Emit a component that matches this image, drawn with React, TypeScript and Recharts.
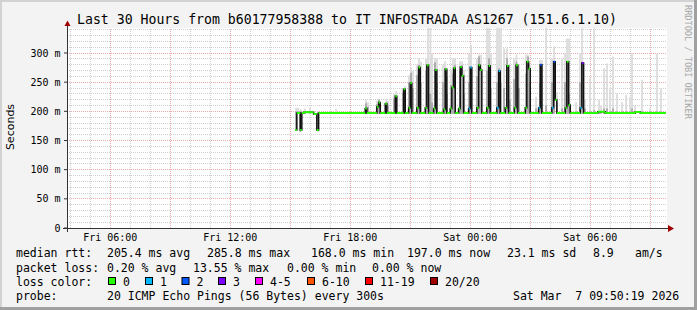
import React from 'react';
import { Area, CartesianGrid, ComposedChart, Line, ReferenceLine, XAxis, YAxis } from 'recharts';

// time axis in hours since Fri 00:00, last 30 hours up to Sat 09:50:19
const startHour = 3.8386;
const endHour = 33.8386;
const yTop = 342.86;

const xTickHours = [6, 12, 18, 24, 30];
const xTickLabels = ['Fri 06:00', 'Fri 12:00', 'Fri 18:00', 'Sat 00:00', 'Sat 06:00'];
const yTicks = [0, 50, 100, 150, 200, 250, 300];
const yTickLabels = ['0', '50 m', '100 m', '150 m', '200 m', '250 m', '300 m'];

const minorHours = [4, 5, 7, 8, 10, 11, 13, 14, 16, 17, 19, 20, 22, 23, 25, 26, 28, 29, 31, 32];
const majorHours = [6, 9, 12, 15, 18, 21, 24, 27, 30, 33];
const minorMs = [10, 20, 30, 40, 60, 70, 80, 90, 110, 120, 130, 140, 160, 170, 180, 190, 210, 220, 230, 240, 260, 270, 280, 290, 310, 320, 330, 340];
const majorMs = [50, 100, 150, 200, 250, 300];

const lossColors = ['#26ff00', '#00b8ff', '#0059ff', '#7e00ff', '#ff00ff', '#ff5500', '#ff0000', '#a10000'];
const lossLabels = ['0', '1', '2', '3', '4-5', '6-10', '11-19', '20/20'];

// median rtt steps: [hour, ms, loss class] - value holds until the next entry
const medianSteps: [number, number, number][] = [
  [15.25, 168, 0], [15.33, 197, 0], [15.5, 168, 0], [15.58, 197, 0], [15.67, 198.5, 0],
  [16.17, 195.5, 0], [16.33, 168, 0], [16.42, 197, 0],
  [18.75, 205, 0], [18.83, 197, 0],
  [19.33, 208, 0], [19.42, 215, 0], [19.5, 197, 0],
  [19.75, 213, 0], [19.83, 197, 0],
  [20.25, 226, 0], [20.33, 197, 0],
  [20.67, 238, 0], [20.75, 197, 0],
  [20.92, 206, 0], [21.0, 248, 0], [21.08, 197, 0],
  [21.33, 206, 0], [21.42, 275, 0], [21.5, 197, 0],
  [21.75, 206, 0], [21.83, 279, 0], [21.92, 197, 0],
  [22.17, 205, 0], [22.25, 271, 0], [22.33, 197, 0],
  [22.67, 203, 0], [22.75, 272, 0], [22.83, 197, 0],
  [23.0, 205, 0], [23.08, 241, 0], [23.17, 274, 0], [23.25, 197, 0],
  [23.42, 205, 0], [23.5, 276, 0], [23.58, 261, 0], [23.67, 197, 0],
  [23.92, 205, 1], [24.0, 275, 1], [24.08, 197, 0],
  [24.33, 206, 0], [24.42, 279, 0], [24.5, 271, 0], [24.58, 197, 0],
  [24.83, 206, 0], [24.92, 278, 0], [25.0, 197, 0],
  [25.33, 206, 1], [25.42, 269, 1], [25.5, 197, 0],
  [25.75, 206, 0], [25.83, 278, 0], [25.92, 197, 0],
  [26.21, 206, 0], [26.29, 279, 0], [26.38, 197, 0],
  [26.75, 206, 0], [26.83, 285, 0], [26.92, 273, 0], [27.0, 197, 0],
  [27.42, 206, 1], [27.5, 280, 2], [27.58, 197, 0],
  [28.08, 206, 1], [28.17, 285, 2], [28.25, 220, 0], [28.33, 197, 0],
  [28.75, 206, 0], [28.83, 285, 0], [28.92, 211, 0], [29.0, 197, 0],
  [29.5, 206, 1], [29.58, 283, 3], [29.67, 197, 0],
  [30.38, 199.5, 0], [30.75, 197, 0], [32.25, 199, 0], [32.5, 197, 0],
  [33.79, 197, 0],
];

// smoke: [hour, low, dark top, light top]
const smoke: [number, number, number, number][] = [
  [15.29, 168, 200, 206], [15.39, 196, 200, 206], [15.51, 165, 200, 204], [15.74, 196, 199, 205],
  [15.99, 196, 199, 206], [16.39, 166, 198, 201], [17.29, 196, 198, 204],
  [18.79, 196, 214, 220], [18.89, 196, 208, 216], [19.34, 196, 212, 218], [19.44, 196, 220, 222],
  [19.81, 196, 216, 221], [19.89, 196, 210, 218], [20.19, 196, 222, 230], [20.29, 196, 228, 235],
  [20.64, 196, 232, 240], [20.74, 196, 238, 243], [20.94, 196, 250, 262], [21.04, 196, 266, 275],
  [21.14, 196, 240, 270], [21.34, 196, 262, 280], [21.44, 196, 280, 291], [21.54, 196, 250, 285],
  [21.79, 196, 270, 290], [21.89, 196, 280, 343], [22.01, 196, 230, 343], [22.09, 196, 215, 300],
  [22.24, 196, 284, 291], [22.34, 196, 250, 291], [22.64, 196, 250, 280], [22.74, 196, 274, 286],
  [22.84, 196, 230, 260], [23.04, 196, 245, 270], [23.14, 196, 265, 291], [23.24, 196, 280, 291],
  [23.49, 196, 270, 286], [23.59, 196, 279, 286], [23.69, 196, 230, 270], [23.94, 196, 250, 300],
  [24.04, 196, 276, 314], [24.34, 196, 260, 290], [24.44, 196, 294, 297], [24.54, 196, 275, 297],
  [24.84, 196, 270, 343], [24.94, 196, 291, 343], [25.04, 196, 240, 300], [25.34, 196, 250, 343],
  [25.44, 196, 274, 343], [25.54, 196, 250, 343], [25.69, 196, 240, 308], [25.84, 196, 291, 308],
  [25.99, 196, 220, 245], [26.19, 196, 255, 290], [26.31, 196, 285, 297], [26.44, 196, 240, 280],
  [26.79, 196, 265, 297], [26.89, 196, 294, 297], [26.99, 196, 250, 280], [27.29, 196, 205, 225],
  [27.49, 196, 250, 288], [27.59, 196, 281, 288], [27.79, 196, 210, 343], [28.09, 196, 250, 291],
  [28.19, 196, 286, 311], [28.34, 196, 215, 233], [28.59, 196, 205, 290], [28.74, 196, 250, 300],
  [28.84, 196, 286, 325], [28.94, 196, 230, 325], [29.29, 196, 200, 216], [29.49, 196, 250, 300],
  [29.59, 196, 284, 343], [29.74, 196, 205, 220], [29.99, 196, 200, 257], [30.19, 196, 202, 343],
  [30.44, 196, 200, 220], [30.54, 196, 200, 210], [30.69, 196, 205, 274], [30.84, 196, 205, 282],
  [30.99, 196, 200, 239], [31.14, 196, 205, 294], [31.34, 196, 200, 231], [31.59, 196, 200, 216],
  [31.79, 196, 200, 228], [31.99, 196, 200, 225], [32.09, 196, 205, 300], [32.24, 196, 200, 210],
  [32.59, 196, 200, 254], [32.99, 196, 200, 205], [33.34, 196, 200, 299], [33.54, 196, 200, 239],
];

const statsRows: [number, string][][] = [
  [[16, 'median rtt:'], [107, '205.4 ms avg'], [207, '285.8 ms max'], [311, '168.0 ms min'], [407, '197.0 ms now'], [507, '23.1 ms sd'], [593, '8.9'], [635, 'am/s']],
  [[16, 'packet loss:'], [107, '0.20 % avg'], [193, '13.55 % max'], [287, '0.00 % min'], [372, '0.00 % now']],
];
const rowBaselines = [257, 271.5, 285.5, 299.5];
const lossBoxX = [108.5, 145.5, 182, 218.5, 255.5, 307.5, 365.5, 430.5];

const mono = "'DejaVu Sans Mono', monospace";
const smokeHalfWidth = 0.045; // about one pixel either side
const minorGrid = '#cfcfcf';
const majorGrid = '#eeaaaa';

// each smoke sample becomes a thin column (two points and a break)
function smokeColumns(top: 2 | 3) {
  const rows: { t: number; r: [number, number] | null }[] = [];
  for (const s of smoke) {
    const r: [number, number] = [s[1], s[top]];
    rows.push({ t: s[0] - smokeHalfWidth, r }, { t: s[0] + smokeHalfWidth, r }, { t: s[0] + smokeHalfWidth, r: null });
  }
  return rows;
}

const medianData = medianSteps.map(([t, v]) => ({ t, v }));

function segmentsFor(loss: number) {
  const rows: { t: number; v: number | null }[] = [];
  for (let i = 0; i < medianSteps.length - 1; i++) {
    const [t, v, l] = medianSteps[i];
    if (l !== loss) continue;
    const next = medianSteps[i + 1][0];
    rows.push({ t, v }, { t: next, v }, { t: next, v: null });
  }
  return rows;
}

export default function App() {
  return (
    <div style={{ position: 'absolute', left: 0, top: 0, width: 697, height: 310, background: '#f3f3f3' }}>
      <ComposedChart width={697} height={310} margin={{ top: 28, right: 30, bottom: 62, left: 0 }}>
        <CartesianGrid fill="#ffffff" horizontal={false} vertical={false} />
        <XAxis
          type="number"
          dataKey="t"
          domain={[startHour, endHour]}
          allowDataOverflow
          ticks={xTickHours}
          interval={0}
          tickFormatter={(v: number) => xTickLabels[xTickHours.indexOf(v)]}
          axisLine={false}
          tickLine={false}
          tickSize={0}
          tickMargin={5.6}
          height={20}
          tick={{ fill: '#000', fontSize: 10, fontFamily: mono }}
        />
        <YAxis
          type="number"
          domain={[0, yTop]}
          allowDataOverflow
          ticks={yTicks}
          interval={0}
          tickFormatter={(v: number) => yTickLabels[yTicks.indexOf(v)]}
          axisLine={false}
          tickLine={{ stroke: '#333' }}
          tickSize={3}
          tickMargin={3.5}
          width={67}
          tick={{ fill: '#000', fontSize: 10, fontFamily: mono }}
        />
        {minorMs.map((v) => (
          <ReferenceLine key={'hm' + v} y={v} stroke={minorGrid} strokeDasharray="1 1" shapeRendering="crispEdges" zIndex={-60} />
        ))}
        {minorHours.map((h) => (
          <ReferenceLine key={'vm' + h} x={h} stroke={minorGrid} strokeDasharray="1 1" shapeRendering="crispEdges" zIndex={-60} />
        ))}
        {majorMs.map((v) => (
          <ReferenceLine key={'hM' + v} y={v} stroke={majorGrid} strokeDasharray="1 1" shapeRendering="crispEdges" zIndex={-55} />
        ))}
        {majorHours.map((h) => (
          <ReferenceLine key={'vM' + h} x={h} stroke={majorGrid} strokeDasharray="1 1" shapeRendering="crispEdges" zIndex={-55} />
        ))}
        <Area
          data={smokeColumns(3)}
          dataKey="r"
          type="linear"
          stroke="none"
          fill="#dcdcdc"
          fillOpacity={1}
          connectNulls={false}
          dot={false}
          activeDot={false}
          isAnimationActive={false}
        />
        <Area
          data={smokeColumns(2)}
          dataKey="r"
          type="linear"
          stroke="none"
          fill="#a8a8a8"
          fillOpacity={1}
          connectNulls={false}
          dot={false}
          activeDot={false}
          isAnimationActive={false}
        />
        <Line
          data={medianData}
          dataKey="v"
          type="stepAfter"
          stroke="#111"
          strokeWidth={1.5}
          dot={false}
          activeDot={false}
          isAnimationActive={false}
        />
        {[0, 1, 2, 3].map((loss) => (
          <Line
            key={loss}
            data={segmentsFor(loss)}
            dataKey="v"
            type="linear"
            stroke={lossColors[loss]}
            strokeWidth={2}
            strokeLinecap="butt"
            connectNulls={false}
            dot={false}
            activeDot={false}
            isAnimationActive={false}
          />
        ))}
      </ComposedChart>
      <svg width={697} height={310} style={{ position: 'absolute', left: 0, top: 0, pointerEvents: 'none' }}>
        <rect x={0} y={0} width={697} height={2} fill="#d2d2d2" />
        <rect x={0} y={0} width={2} height={310} fill="#d2d2d2" />
        <rect x={694} y={0} width={3} height={310} fill="#a0a0a0" />
        <rect x={0} y={307} width={697} height={3} fill="#a0a0a0" />
        <line x1={67.5} y1={232} x2={67.5} y2={24} stroke="#333" strokeWidth={1} />
        <line x1={63} y1={228.5} x2={669} y2={228.5} stroke="#333" strokeWidth={1} />
        <polygon points="64.5,26 70.5,26 67.5,20.5" fill="#a00000" />
        <polygon points="668,225 668,232 674,228.5" fill="#a00000" />
        <text x={77} y={23.5} fontFamily={mono} fontSize={13.2} fill="#000">
          Last 30 Hours from b60177958388 to IT INFOSTRADA AS1267 (151.6.1.10)
        </text>
        <text x={14} y={127} transform="rotate(-90 14 127)" textAnchor="middle" fontFamily="'DejaVu Sans', sans-serif" fontSize={11} fill="#000">
          Seconds
        </text>
        <text x={685} y={5} transform="rotate(90 685 5)" fontFamily={mono} fontSize={8.6} fill="#a8a8a8">
          RRDTOOL / TOBI OETIKER
        </text>
        {statsRows.map((row, r) =>
          row.map(([x, s]) => (
            <text key={r + '-' + x} x={x} y={rowBaselines[r]} fontFamily={mono} fontSize={11.5} fill="#000" style={{ whiteSpace: 'pre' }}>
              {s}
            </text>
          ))
        )}
        <text x={16} y={rowBaselines[2]} fontFamily={mono} fontSize={11.5} fill="#000">loss color:</text>
        {lossLabels.map((lab, i) => (
          <g key={lab}>
            <rect x={lossBoxX[i]} y={277.5} width={7} height={7} fill={lossColors[i]} stroke="#000" strokeWidth={1} />
            <text x={lossBoxX[i] + 14.5} y={rowBaselines[2]} fontFamily={mono} fontSize={11.5} fill="#000">{lab}</text>
          </g>
        ))}
        <text x={16} y={rowBaselines[3]} fontFamily={mono} fontSize={11.5} fill="#000">probe:</text>
        <text x={107} y={rowBaselines[3]} fontFamily={mono} fontSize={11.5} fill="#000">20 ICMP Echo Pings (56 Bytes) every 300s</text>
        <text x={513} y={rowBaselines[3]} fontFamily={mono} fontSize={11.5} fill="#000" style={{ whiteSpace: 'pre' }}>
          Sat Mar  7 09:50:19 2026
        </text>
      </svg>
    </div>
  );
}
